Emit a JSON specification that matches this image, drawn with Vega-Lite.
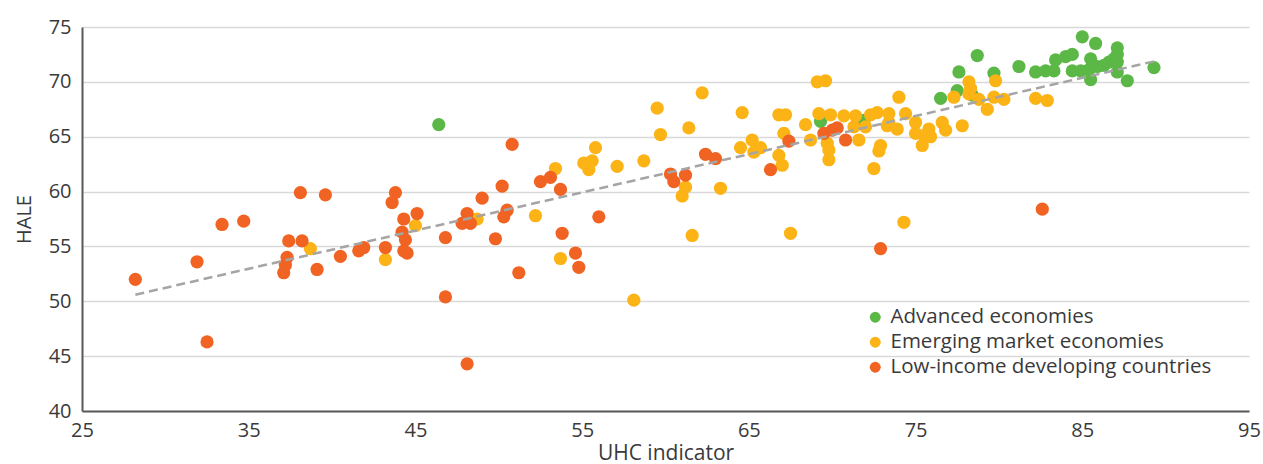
{
  "$schema": "https://vega.github.io/schema/vega-lite/v6.json",
  "width": 1167,
  "height": 384,
  "autosize": {"type": "none"},
  "padding": {"left": 82, "top": 27, "right": 14, "bottom": 53},
  "config": {
    "font": "Open Sans",
    "view": {"stroke": null},
    "axis": {"labelFontSize": 20, "titleFontSize": 20, "titleFontWeight": "normal", "labelColor": "#3A3A3A", "titleColor": "#3A3A3A", "ticks": false, "domainColor": "#595959", "labelFlush": false}
  },
  "layer": [
    {
      "data": {"values": [
        {"group": "Advanced economies", "uhc": 46.4, "hale": 66.1},
        {"group": "Advanced economies", "uhc": 69.3, "hale": 66.4},
        {"group": "Advanced economies", "uhc": 71.9, "hale": 66.5},
        {"group": "Advanced economies", "uhc": 76.5, "hale": 68.5},
        {"group": "Advanced economies", "uhc": 77.6, "hale": 70.9},
        {"group": "Advanced economies", "uhc": 77.5, "hale": 69.2},
        {"group": "Advanced economies", "uhc": 78.4, "hale": 68.8},
        {"group": "Advanced economies", "uhc": 78.7, "hale": 72.4},
        {"group": "Advanced economies", "uhc": 79.7, "hale": 70.8},
        {"group": "Advanced economies", "uhc": 81.2, "hale": 71.4},
        {"group": "Advanced economies", "uhc": 82.2, "hale": 70.9},
        {"group": "Advanced economies", "uhc": 82.8, "hale": 71.0},
        {"group": "Advanced economies", "uhc": 83.3, "hale": 71.0},
        {"group": "Advanced economies", "uhc": 83.4, "hale": 72.0},
        {"group": "Advanced economies", "uhc": 84.0, "hale": 72.3},
        {"group": "Advanced economies", "uhc": 84.4, "hale": 72.5},
        {"group": "Advanced economies", "uhc": 84.4, "hale": 71.0},
        {"group": "Advanced economies", "uhc": 84.9, "hale": 71.0},
        {"group": "Advanced economies", "uhc": 85.0, "hale": 74.1},
        {"group": "Advanced economies", "uhc": 85.5, "hale": 72.1},
        {"group": "Advanced economies", "uhc": 85.4, "hale": 71.1},
        {"group": "Advanced economies", "uhc": 85.5, "hale": 70.2},
        {"group": "Advanced economies", "uhc": 85.8, "hale": 73.5},
        {"group": "Advanced economies", "uhc": 85.9, "hale": 71.4},
        {"group": "Advanced economies", "uhc": 86.3, "hale": 71.5},
        {"group": "Advanced economies", "uhc": 86.6, "hale": 71.8},
        {"group": "Advanced economies", "uhc": 86.9, "hale": 72.1},
        {"group": "Advanced economies", "uhc": 87.1, "hale": 73.1},
        {"group": "Advanced economies", "uhc": 87.1, "hale": 72.5},
        {"group": "Advanced economies", "uhc": 87.1, "hale": 71.8},
        {"group": "Advanced economies", "uhc": 87.1, "hale": 70.9},
        {"group": "Advanced economies", "uhc": 87.7, "hale": 70.1},
        {"group": "Advanced economies", "uhc": 89.3, "hale": 71.3},
        {"group": "Emerging market economies", "uhc": 38.7, "hale": 54.8},
        {"group": "Emerging market economies", "uhc": 43.2, "hale": 53.8},
        {"group": "Emerging market economies", "uhc": 45.0, "hale": 56.9},
        {"group": "Emerging market economies", "uhc": 48.7, "hale": 57.5},
        {"group": "Emerging market economies", "uhc": 52.2, "hale": 57.8},
        {"group": "Emerging market economies", "uhc": 53.4, "hale": 62.1},
        {"group": "Emerging market economies", "uhc": 53.7, "hale": 53.9},
        {"group": "Emerging market economies", "uhc": 55.1, "hale": 62.6},
        {"group": "Emerging market economies", "uhc": 55.6, "hale": 62.8},
        {"group": "Emerging market economies", "uhc": 55.4, "hale": 62.0},
        {"group": "Emerging market economies", "uhc": 55.8, "hale": 64.0},
        {"group": "Emerging market economies", "uhc": 57.1, "hale": 62.3},
        {"group": "Emerging market economies", "uhc": 58.1, "hale": 50.1},
        {"group": "Emerging market economies", "uhc": 58.7, "hale": 62.8},
        {"group": "Emerging market economies", "uhc": 59.5, "hale": 67.6},
        {"group": "Emerging market economies", "uhc": 59.7, "hale": 65.2},
        {"group": "Emerging market economies", "uhc": 61.2, "hale": 60.4},
        {"group": "Emerging market economies", "uhc": 61.0, "hale": 59.6},
        {"group": "Emerging market economies", "uhc": 61.4, "hale": 65.8},
        {"group": "Emerging market economies", "uhc": 61.6, "hale": 56.0},
        {"group": "Emerging market economies", "uhc": 62.2, "hale": 69.0},
        {"group": "Emerging market economies", "uhc": 63.3, "hale": 60.3},
        {"group": "Emerging market economies", "uhc": 64.6, "hale": 67.2},
        {"group": "Emerging market economies", "uhc": 64.5, "hale": 64.0},
        {"group": "Emerging market economies", "uhc": 65.2, "hale": 64.7},
        {"group": "Emerging market economies", "uhc": 65.3, "hale": 63.6},
        {"group": "Emerging market economies", "uhc": 65.7, "hale": 64.0},
        {"group": "Emerging market economies", "uhc": 66.8, "hale": 67.0},
        {"group": "Emerging market economies", "uhc": 67.2, "hale": 67.0},
        {"group": "Emerging market economies", "uhc": 67.1, "hale": 65.3},
        {"group": "Emerging market economies", "uhc": 66.8, "hale": 63.3},
        {"group": "Emerging market economies", "uhc": 67.0, "hale": 62.4},
        {"group": "Emerging market economies", "uhc": 67.5, "hale": 56.2},
        {"group": "Emerging market economies", "uhc": 68.4, "hale": 66.1},
        {"group": "Emerging market economies", "uhc": 68.7, "hale": 64.7},
        {"group": "Emerging market economies", "uhc": 69.1, "hale": 70.0},
        {"group": "Emerging market economies", "uhc": 69.6, "hale": 70.1},
        {"group": "Emerging market economies", "uhc": 69.2, "hale": 67.1},
        {"group": "Emerging market economies", "uhc": 69.9, "hale": 67.0},
        {"group": "Emerging market economies", "uhc": 69.7, "hale": 64.4},
        {"group": "Emerging market economies", "uhc": 69.8, "hale": 63.8},
        {"group": "Emerging market economies", "uhc": 69.8, "hale": 62.9},
        {"group": "Emerging market economies", "uhc": 70.7, "hale": 66.9},
        {"group": "Emerging market economies", "uhc": 71.4, "hale": 66.9},
        {"group": "Emerging market economies", "uhc": 71.6, "hale": 64.7},
        {"group": "Emerging market economies", "uhc": 71.3, "hale": 65.9},
        {"group": "Emerging market economies", "uhc": 72.0, "hale": 65.9},
        {"group": "Emerging market economies", "uhc": 72.3, "hale": 67.0},
        {"group": "Emerging market economies", "uhc": 72.7, "hale": 67.2},
        {"group": "Emerging market economies", "uhc": 72.5, "hale": 62.1},
        {"group": "Emerging market economies", "uhc": 72.9, "hale": 64.2},
        {"group": "Emerging market economies", "uhc": 72.8, "hale": 63.7},
        {"group": "Emerging market economies", "uhc": 73.3, "hale": 66.0},
        {"group": "Emerging market economies", "uhc": 73.4, "hale": 67.1},
        {"group": "Emerging market economies", "uhc": 73.4, "hale": 66.3},
        {"group": "Emerging market economies", "uhc": 73.9, "hale": 65.7},
        {"group": "Emerging market economies", "uhc": 74.0, "hale": 68.6},
        {"group": "Emerging market economies", "uhc": 74.3, "hale": 57.2},
        {"group": "Emerging market economies", "uhc": 74.4, "hale": 67.1},
        {"group": "Emerging market economies", "uhc": 75.0, "hale": 66.3},
        {"group": "Emerging market economies", "uhc": 75.0, "hale": 65.3},
        {"group": "Emerging market economies", "uhc": 75.4, "hale": 64.2},
        {"group": "Emerging market economies", "uhc": 75.8, "hale": 65.7},
        {"group": "Emerging market economies", "uhc": 75.9, "hale": 65.0},
        {"group": "Emerging market economies", "uhc": 75.5, "hale": 65.1},
        {"group": "Emerging market economies", "uhc": 76.6, "hale": 66.3},
        {"group": "Emerging market economies", "uhc": 76.8, "hale": 65.6},
        {"group": "Emerging market economies", "uhc": 77.8, "hale": 66.0},
        {"group": "Emerging market economies", "uhc": 77.3, "hale": 68.6},
        {"group": "Emerging market economies", "uhc": 78.2, "hale": 70.0},
        {"group": "Emerging market economies", "uhc": 78.3, "hale": 69.4},
        {"group": "Emerging market economies", "uhc": 78.2, "hale": 68.9},
        {"group": "Emerging market economies", "uhc": 78.8, "hale": 68.4},
        {"group": "Emerging market economies", "uhc": 79.3, "hale": 67.5},
        {"group": "Emerging market economies", "uhc": 79.8, "hale": 70.1},
        {"group": "Emerging market economies", "uhc": 79.7, "hale": 68.6},
        {"group": "Emerging market economies", "uhc": 80.3, "hale": 68.4},
        {"group": "Emerging market economies", "uhc": 82.2, "hale": 68.5},
        {"group": "Emerging market economies", "uhc": 82.9, "hale": 68.3},
        {"group": "Low-income developing countries", "uhc": 28.2, "hale": 52.0},
        {"group": "Low-income developing countries", "uhc": 31.9, "hale": 53.6},
        {"group": "Low-income developing countries", "uhc": 32.5, "hale": 46.3},
        {"group": "Low-income developing countries", "uhc": 33.4, "hale": 57.0},
        {"group": "Low-income developing countries", "uhc": 34.7, "hale": 57.3},
        {"group": "Low-income developing countries", "uhc": 38.1, "hale": 59.9},
        {"group": "Low-income developing countries", "uhc": 39.6, "hale": 59.7},
        {"group": "Low-income developing countries", "uhc": 37.4, "hale": 55.5},
        {"group": "Low-income developing countries", "uhc": 38.2, "hale": 55.5},
        {"group": "Low-income developing countries", "uhc": 37.3, "hale": 54.0},
        {"group": "Low-income developing countries", "uhc": 37.2, "hale": 53.3},
        {"group": "Low-income developing countries", "uhc": 37.1, "hale": 52.6},
        {"group": "Low-income developing countries", "uhc": 39.1, "hale": 52.9},
        {"group": "Low-income developing countries", "uhc": 40.5, "hale": 54.1},
        {"group": "Low-income developing countries", "uhc": 41.6, "hale": 54.6},
        {"group": "Low-income developing countries", "uhc": 41.9, "hale": 54.9},
        {"group": "Low-income developing countries", "uhc": 43.2, "hale": 54.9},
        {"group": "Low-income developing countries", "uhc": 43.8, "hale": 59.9},
        {"group": "Low-income developing countries", "uhc": 43.6, "hale": 59.0},
        {"group": "Low-income developing countries", "uhc": 44.3, "hale": 57.5},
        {"group": "Low-income developing countries", "uhc": 44.2, "hale": 56.3},
        {"group": "Low-income developing countries", "uhc": 44.4, "hale": 55.6},
        {"group": "Low-income developing countries", "uhc": 44.3, "hale": 54.6},
        {"group": "Low-income developing countries", "uhc": 44.5, "hale": 54.4},
        {"group": "Low-income developing countries", "uhc": 45.1, "hale": 58.0},
        {"group": "Low-income developing countries", "uhc": 46.8, "hale": 55.8},
        {"group": "Low-income developing countries", "uhc": 46.8, "hale": 50.4},
        {"group": "Low-income developing countries", "uhc": 48.1, "hale": 44.3},
        {"group": "Low-income developing countries", "uhc": 47.8, "hale": 57.1},
        {"group": "Low-income developing countries", "uhc": 48.1, "hale": 58.0},
        {"group": "Low-income developing countries", "uhc": 48.3, "hale": 57.1},
        {"group": "Low-income developing countries", "uhc": 49.0, "hale": 59.4},
        {"group": "Low-income developing countries", "uhc": 49.8, "hale": 55.7},
        {"group": "Low-income developing countries", "uhc": 50.2, "hale": 60.5},
        {"group": "Low-income developing countries", "uhc": 50.5, "hale": 58.3},
        {"group": "Low-income developing countries", "uhc": 50.3, "hale": 57.7},
        {"group": "Low-income developing countries", "uhc": 50.8, "hale": 64.3},
        {"group": "Low-income developing countries", "uhc": 51.2, "hale": 52.6},
        {"group": "Low-income developing countries", "uhc": 52.5, "hale": 60.9},
        {"group": "Low-income developing countries", "uhc": 53.1, "hale": 61.3},
        {"group": "Low-income developing countries", "uhc": 53.7, "hale": 60.2},
        {"group": "Low-income developing countries", "uhc": 53.8, "hale": 56.2},
        {"group": "Low-income developing countries", "uhc": 54.6, "hale": 54.4},
        {"group": "Low-income developing countries", "uhc": 54.8, "hale": 53.1},
        {"group": "Low-income developing countries", "uhc": 56.0, "hale": 57.7},
        {"group": "Low-income developing countries", "uhc": 60.3, "hale": 61.6},
        {"group": "Low-income developing countries", "uhc": 60.5, "hale": 60.9},
        {"group": "Low-income developing countries", "uhc": 61.2, "hale": 61.5},
        {"group": "Low-income developing countries", "uhc": 62.4, "hale": 63.4},
        {"group": "Low-income developing countries", "uhc": 63.0, "hale": 63.0},
        {"group": "Low-income developing countries", "uhc": 66.3, "hale": 62.0},
        {"group": "Low-income developing countries", "uhc": 67.4, "hale": 64.6},
        {"group": "Low-income developing countries", "uhc": 69.5, "hale": 65.3},
        {"group": "Low-income developing countries", "uhc": 70.0, "hale": 65.6},
        {"group": "Low-income developing countries", "uhc": 70.3, "hale": 65.8},
        {"group": "Low-income developing countries", "uhc": 70.8, "hale": 64.7},
        {"group": "Low-income developing countries", "uhc": 72.9, "hale": 54.8},
        {"group": "Low-income developing countries", "uhc": 82.6, "hale": 58.4}
      ]},
      "mark": {"type": "circle", "opacity": 1, "size": 175},
      "encoding": {
        "x": {"field": "uhc", "type": "quantitative", "title": "UHC indicator",
              "scale": {"domain": [25, 95], "nice": false, "zero": false},
              "axis": {"values": [25, 35, 45, 55, 65, 75, 85, 95], "grid": false, "domainWidth": 2, "labelPadding": 9, "titlePadding": 2, "titleFontSize": 21}},
        "y": {"field": "hale", "type": "quantitative", "title": "HALE",
              "scale": {"domain": [40, 75], "nice": false, "zero": false},
              "axis": {"values": [40, 45, 50, 55, 60, 65, 70, 75], "grid": true, "gridColor": "#D9D9D9", "gridWidth": 1.5, "domainWidth": 2, "labelPadding": 11, "titlePadding": 14}},
        "color": {"field": "group", "type": "nominal",
                  "scale": {"domain": ["Advanced economies", "Emerging market economies", "Low-income developing countries"], "range": ["#5BB846", "#FBB316", "#F16322"]},
                  "legend": {"title": null, "orient": "none", "legendX": 783, "legendY": 280, "labelFontSize": 20.5, "labelLimit": 500, "labelColor": "#3A3A3A", "symbolType": "circle", "symbolSize": 120, "symbolOpacity": 1, "labelOffset": 5, "rowPadding": 4}}
      }
    },
    {
      "data": {"values": [{"uhc": 28.2, "hale": 50.6}, {"uhc": 89.4, "hale": 71.9}]},
      "mark": {"type": "line", "color": "#A5A5A5", "strokeWidth": 2.5, "strokeDash": [9, 5]},
      "encoding": {
        "x": {"field": "uhc", "type": "quantitative"},
        "y": {"field": "hale", "type": "quantitative"}
      }
    }
  ]
}
